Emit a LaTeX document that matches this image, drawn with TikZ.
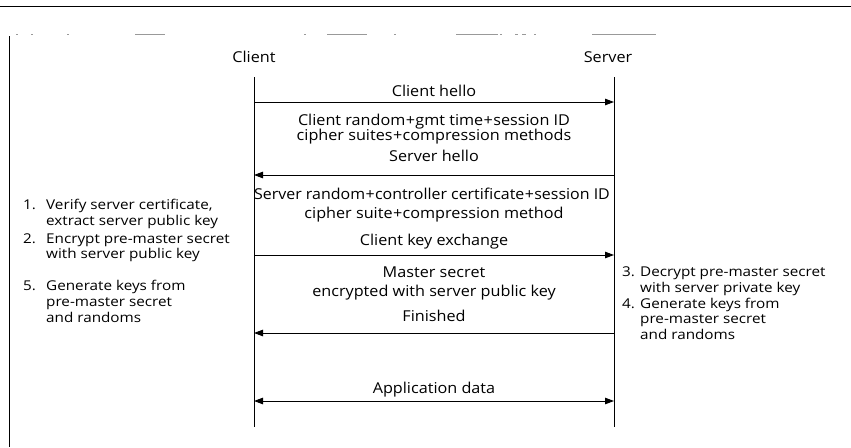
\documentclass[tikz,border=0pt]{standalone}
\usepackage{fontspec}
\setmainfont{Open Sans}
\newfontfamily\midf[FakeStretch=1.08]{Open Sans}
\newfontfamily\sidef[FakeStretch=1.13]{Open Sans}
\usetikzlibrary{arrows.meta}
\newcommand{\pl}{\kern0.4pt+\kern0.4pt}
\begin{document}
\begin{tikzpicture}[x=1pt,y=-1pt,
  msg/.style={line width=0.9pt, -{Triangle[length=9pt,width=6.5pt]}},
  bimsg/.style={line width=0.9pt, {Triangle[length=9pt,width=6.5pt]}-{Triangle[length=9pt,width=6.5pt]}},
  life/.style={line width=0.7pt},
  frame/.style={line width=0.8pt},
  scrap/.style={line width=0.5pt, black!40},
  mtext/.style={anchor=base, inner sep=0pt, font=\midf\fontsize{15}{15}\selectfont},
  stext/.style={anchor=base west, inner sep=0pt, font=\sidef\fontsize{13.5}{16}\selectfont},
]
\useasboundingbox (0,0) rectangle (851,447);
% frame remnants
\draw[frame] (0,6) -- (851,6);
\coordinate (ftop) at (9,36);
\coordinate (fbot) at (9,447);
\draw[frame] (ftop) -- (fbot);
\foreach \a/\b in {16/18,31/33,67/69,135/165,304/306,327/367,394/396,456/498,500/502,515/518,522/526,534/536,592/656}
  \draw[scrap] (\a,34) -- (\b,34);

% participants
\node[mtext] (client) at (254,62) {Client};
\node[mtext] (server) at (608,62) {Server};
\coordinate (ct) at (254,77);
\coordinate (cb) at (254,427);
\coordinate (st) at (614,77);
\coordinate (sb) at (614,427);
\draw[life] (ct) -- (cb);
\draw[life] (st) -- (sb);

% message end points
\foreach \n/\y in {1/102,2/175,3/255,4/333,5/401}{
  \coordinate (c\n) at (254,\y);
  \coordinate (s\n) at (614,\y);
}
\draw[msg] (c1) -- (s1);
\draw[msg] (s2) -- (c2);
\draw[msg] (c3) -- (s3);
\draw[msg] (s4) -- (c4);
\draw[bimsg] (c5) -- (s5);

% message texts
\node[mtext] (m1) at (434,96) {Client hello};
\node[mtext] (m2a) at (434,125.7) {Client random\pl gmt time\pl session ID};
\node[mtext] (m2b) at (434,140.7) {cipher suites\pl compression methods};
\node[mtext] (m2) at (434,161) {Server hello};
\node[mtext, xscale=0.985] (m3a) at (432,199.3) {Server random\pl controller certificate\pl session ID};
\node[mtext] (m3b) at (434,218.3) {cipher suite\pl compression method};
\node[mtext] (m3) at (434,245) {Client key exchange};
\node[mtext] (m4a) at (434,277.3) {Master secret};
\node[mtext] (m4b) at (434,296.5) {encrypted with server public key};
\node[mtext] (m4) at (434,321.7) {Finished};
\node[mtext] (m5) at (434,393.3) {Application data};

% client side notes
\node[stext] (l1n) at (23,209.3) {1.};
\node[stext] (l1a) at (46,209.3) {Verify server certificate,};
\node[stext] (l1b) at (46,225) {extract server public key};
\node[stext] (l2n) at (23,243.3) {2.};
\node[stext] (l2a) at (46,243.3) {Encrypt pre-master secret};
\node[stext] (l2b) at (46,258.3) {with server public key};
\node[stext] (l5n) at (23,290) {5.};
\node[stext] (l5a) at (46,290) {Generate keys from};
\node[stext] (l5b) at (46,306.7) {pre-master secret};
\node[stext] (l5c) at (46,322.7) {and randoms};

% server side notes
\node[stext] (r3n) at (622,276.7) {3.};
\node[stext] (r3a) at (640,276.7) {Decrypt pre-master secret};
\node[stext] (r3b) at (640,292.7) {with server private key};
\node[stext] (r4n) at (622,308.3) {4.};
\node[stext] (r4a) at (640,308.3) {Generate keys from};
\node[stext] (r4b) at (640,323.3) {pre-master secret};
\node[stext] (r4c) at (640,339.3) {and randoms};
\end{tikzpicture}
\end{document}
